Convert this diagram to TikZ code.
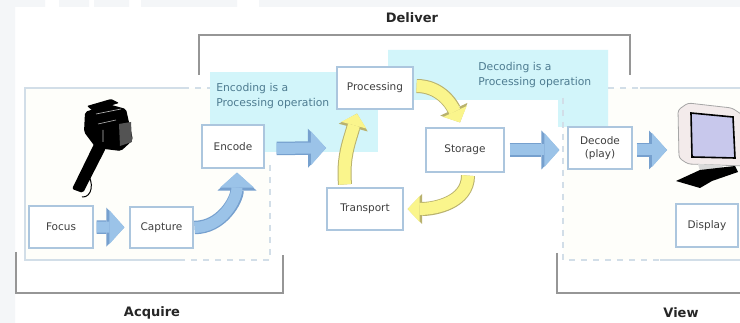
\documentclass[tikz,border=0pt]{standalone}
\usepackage{fontspec}
\setmainfont{DejaVu Sans}
\usetikzlibrary{arrows.meta}
\definecolor{bggray}{RGB}{244,246,248}
\definecolor{boxline}{RGB}{172,198,222}
\definecolor{boxtext}{RGB}{62,62,62}
\definecolor{panelline}{RGB}{210,222,232}
\definecolor{panelfill}{RGB}{254,254,250}
\definecolor{cyanfill}{RGB}{210,245,250}
\definecolor{notetext}{RGB}{78,124,145}
\definecolor{bracketgray}{RGB}{150,150,150}
\definecolor{bluefill}{RGB}{155,195,232}
\definecolor{blueedge}{RGB}{118,160,206}
\definecolor{yellowfill}{RGB}{250,245,140}
\definecolor{yellowedge}{RGB}{185,178,110}
\definecolor{framecol}{RGB}{243,235,235}
\definecolor{screencol}{RGB}{200,200,236}
\tikzset{
  stage/.style={draw=boxline,fill=white,line width=1.2pt,minimum width=64pt,
    minimum height=42pt,inner sep=1pt,text=boxtext,align=center,
    font=\fontsize{10.5}{13}\selectfont},
  bluearrow/.style={draw=bluefill,line width=11pt,
    -{Triangle[width=34pt,length=15pt,line width=0pt]},
    preaction={draw=blueedge,line width=13.5pt,
      -{Triangle[width=39pt,length=18pt,line width=0pt]}}},
  yellowarrow/.style={draw=yellowfill,line width=12pt,
    -{Triangle[width=26pt,length=12pt,line width=0pt]},
    preaction={draw=yellowedge,line width=14pt,
      -{Triangle[width=30pt,length=14.5pt,line width=0pt]}}},
  bracket/.style={draw=bracketgray,line width=1.3pt},
  panel/.style={draw=panelline,line width=1.2pt},
  paneldash/.style={panel,dash pattern=on 6pt off 6pt},
  tag/.style={font=\fontsize{13}{15}\selectfont\bfseries,text=black!85},
  note/.style={font=\fontsize{10.8}{15}\selectfont,text=notetext,align=left,
    inner sep=0pt,anchor=west}
}
\begin{document}
\begin{tikzpicture}[x=1pt,y=-1pt,semithick]
\useasboundingbox (0,0) rectangle (740,323);
\fill[white] (0,0) rectangle (740,323);
\fill[bggray] (0,0) rectangle (15,323) (0,0) rectangle (45,7) (59,0) rectangle (89,7)
  (94,0) rectangle (129,7) (141,0) rectangle (237,7) (259,0) rectangle (740,7);

\fill[panelfill] (25,88) rectangle (270,260);
\fill[panelfill] (563,88) rectangle (742,260);
\fill[cyanfill] (210,72) rectangle (378,152);
\fill[cyanfill] (388,50) -- (608,50) -- (608,127) -- (558,127) -- (558,100) -- (388,100) -- cycle;

\draw[panel] (183,88) -| (25,260) -- (180,260);
\draw[paneldash] (183,88) -- (210,88);
\draw[paneldash] (270,165) |- (180,260);
\draw[paneldash] (563,98) |- (660,260);
\draw[panel] (660,260) -- (742,260);
\draw[paneldash] (608,88) -- (640,88);
\draw[panel] (640,88) -- (742,88);

\draw[bracket] (199,75) |- (630,35) -- (630,75);
\draw[bracket] (16,252) |- (283,293) -- (283,255);
\draw[bracket] (557,253) |- (742,293);
\node[tag] (deliver) at (412,18) {Deliver};
\node[tag] (acquire) at (152,313) {Acquire};
\node[tag] (view) at (681,313) {View};

\node[note] (encnote) at (216,96.5) {Encoding is a\\Processing operation};
\node[note] (decnote) at (478,75.5) {Decoding is a\\Processing operation};

\fill[black,rounded corners=2pt] (85,112) -- (108,104) -- (126,109) -- (133,140) -- (121,151) -- (96,148) -- (84,132) -- cycle;
\fill[black,rounded corners=1pt] (87,106) -- (111,99) -- (119,103) -- (93,111) -- cycle;
\fill[black,rounded corners=2pt] (95,142) -- (106,148) -- (83,193) -- (72,189) -- cycle;
\draw[black,line width=1pt] (86,172) .. controls (95,182) and (92,198) .. (82,197);
\fill[gray!65!black] (119,124) -- (131,122) -- (132,142) -- (120,146) -- cycle;
\draw[gray!55,line width=0.6pt] (96,114) -- (121,109) (98,124) -- (116,120) (103,130) -- (103,142);

\filldraw[fill=framecol,draw=gray!70,line width=0.8pt,rounded corners=3pt] (678,110) -- (688,103)
  -- (732,108) -- (744,116) -- (744,166) -- (688,164) -- (679,158) -- cycle;
\filldraw[fill=screencol,draw=black,line width=1.6pt] (691,113) -- (733,117) -- (735,158) -- (692,157) -- cycle;
\fill[gray!30] (698,164) -- (722,165) -- (724,171) -- (700,171) -- cycle;
\fill[black] (676,181) -- (700,170) -- (735,166) -- (738,172) -- (712,181) -- (700,188) -- cycle;

\node[stage] (focus) at (61,227) {Focus};
\node[stage,minimum width=63pt,minimum height=41pt] (capture) at (161.5,227.5) {Capture};
\node[stage,minimum width=62pt,minimum height=43pt] (encode) at (233,146.5) {Encode};
\node[stage,minimum width=76pt] (proc) at (375,88) {Processing};
\node[stage,minimum width=78pt,minimum height=44pt] (storage) at (465,150) {Storage};
\node[stage,minimum width=76pt] (transport) at (365,209) {Transport};
\node[stage] (decode) at (600,148) {Decode\\(play)};
\node[stage,minimum width=62pt,minimum height=43pt] (display) at (707,225.5) {Display};
\coordinate (loopin) at (326,148);
\coordinate (screen) at (667,150);

\draw[bluearrow,shorten <=3pt,shorten >=5pt] (focus) -- (capture);
\draw[bluearrow] ([xshift=1pt]capture.east) to[out=0,in=-90] ([xshift=4pt,yshift=-4pt]encode.south);
\draw[bluearrow,shorten <=12pt] ([yshift=-2pt]encode.east) -- (loopin);
\draw[bluearrow,shorten <=5pt,shorten >=8pt] (storage.east) -- (storage.east -| decode.west);
\draw[bluearrow,shorten <=4pt] ([yshift=-2pt]decode.east) -- (screen);

\draw[yellowarrow] ([xshift=-20pt,yshift=3pt]transport.north) to[out=95,in=-105] ([xshift=-18pt,yshift=-4pt]proc.south);
\draw[yellowarrow] ([xshift=3pt,yshift=2pt]proc.east) to[out=0,in=115] ([xshift=-5pt,yshift=5pt]storage.north);
\draw[yellowarrow] ([xshift=3pt,yshift=-3pt]storage.south) to[out=-90,in=0] ([xshift=4pt]transport.east);
\end{tikzpicture}
\end{document}
